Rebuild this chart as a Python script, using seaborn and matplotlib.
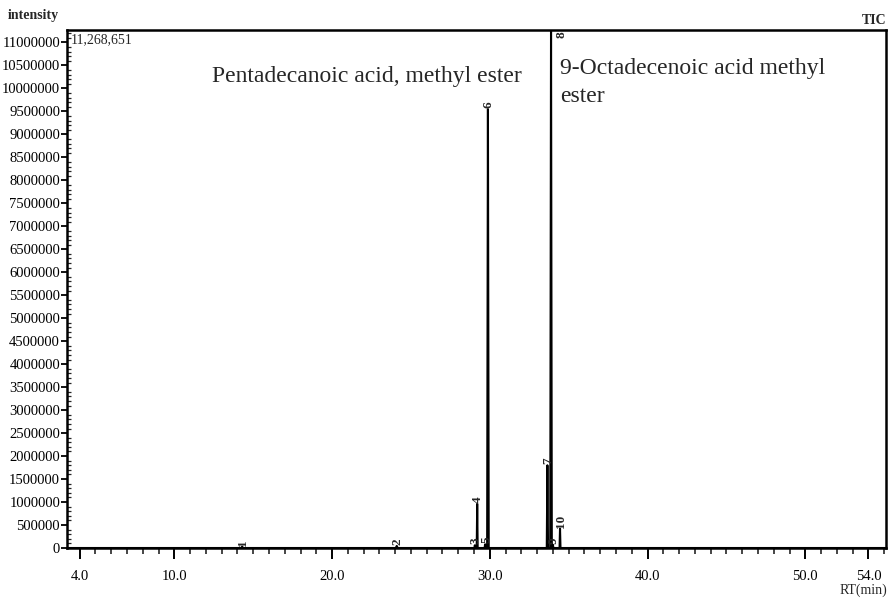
import numpy as np
import pandas as pd
import matplotlib
matplotlib.use("Agg")
import matplotlib.pyplot as plt
import seaborn as sns
from matplotlib.ticker import MultipleLocator, FixedLocator

# ---- data ----
peak_labels = ["1", "2", "3", "4", "5", "6", "7", "8", "9", "10"]
peak_rt = [14.3, 24.1, 29.05, 29.2, 29.7, 29.88, 33.65, 33.88, 34.0, 34.45]
peak_height = [30000, 45000, 60000, 960000, 80000, 9550000, 1800000, 11268651, 70000, 420000]
peak_halfwidth = [0.06, 0.06, 0.03, 0.03, 0.03, 0.05, 0.04, 0.05, 0.03, 0.03]

rt_start, rt_end = 3.2, 55.1
y_max = 11268651
x_tick_values = [4.0, 10.0, 20.0, 30.0, 40.0, 50.0, 54.0]
x_tick_labels = ["4.0", "10.0", "20.0", "30.0", "40.0", "50.0", "54.0"]
compound_names = ["Pentadecanoic acid, methyl ester", "9-Octadecenoic acid methyl\nester"]

# build trace: baseline with narrow peaks
xs = [rt_start]
ys = [0]
for rt, h, w in sorted(zip(peak_rt, peak_height, peak_halfwidth)):
    xs += [rt - w, rt, rt + w]
    ys += [0, h, 0]
xs.append(rt_end)
ys.append(0)
trace = pd.DataFrame({"rt": xs, "intensity": ys})

sns.set_theme(style="white")
serif = ["Liberation Serif", "DejaVu Serif"]
plt.rcParams["font.family"] = serif
plt.rcParams["font.serif"] = serif

fig = plt.figure(figsize=(8.88, 5.98), dpi=100)
ax = fig.add_axes([0.0755, 0.0836, 0.922, 0.866])

sns.lineplot(data=trace, x="rt", y="intensity", sort=False, estimator=None,
             color="black", linewidth=1.5, ax=ax)

ax.set_xlim(rt_start, rt_end)
ax.set_ylim(0, y_max)

for s in ax.spines.values():
    s.set_color("black")
    s.set_linewidth(1.8)

yvals = np.arange(0, 11000001, 500000)
ax.xaxis.set_major_locator(FixedLocator(x_tick_values))
ax.set_xticklabels(x_tick_labels, fontfamily=serif)
ax.xaxis.set_minor_locator(MultipleLocator(1.0))
ax.set_yticks(yvals)
ax.set_yticklabels([str(int(v)) for v in yvals], fontfamily=serif)
ax.yaxis.set_minor_locator(MultipleLocator(100000))

ax.tick_params(axis="x", which="major", direction="out", length=8, width=1.4,
               labelsize=10.5, pad=8, colors="black", bottom=True)
ax.tick_params(axis="x", which="minor", direction="out", length=4, width=1.2, bottom=True)
ax.tick_params(axis="y", which="major", direction="out", length=4, width=1.3,
               labelsize=10.5, pad=1, colors="black", left=True)
ax.tick_params(axis="y", which="minor", direction="in", length=3, width=0.9, left=True)
ax.set_xlabel("")
ax.set_ylabel("")

# peak labels
for lab, rt, h in zip(peak_labels, peak_rt, peak_height):
    if lab == "8":
        ax.text(rt + 0.65, y_max * 0.997, lab, rotation=90, ha="center", va="top",
                fontsize=9.5, fontweight="bold", fontfamily=serif)
    else:
        ax.text(rt + 0.05, h + 20000, lab, rotation=90, ha="center", va="bottom",
                fontsize=9.5, fontweight="bold", fontfamily=serif)

# compound annotations
ax.text(12.4, 10250000, compound_names[0], fontsize=17, ha="left", va="center",
        fontfamily=serif)
ax.text(34.45, 10130000, compound_names[1], fontsize=17, ha="left", va="center",
        linespacing=1.4, fontfamily=serif)

# misc texts
ax.text(3.45, 11060000, "11,268,651", fontsize=10, ha="left", va="center", fontfamily=serif)
fig.text(8 / 888, 1 - 16 / 598, "intensity", fontsize=10, ha="left", va="center",
         fontweight="bold", fontfamily=serif)
fig.text(886 / 888, 1 - 21 / 598, "TIC", fontsize=10, ha="right", va="center",
         fontweight="bold", fontfamily=serif)
fig.text(887 / 888, 1 - 590 / 598, "RT(min)", fontsize=10, ha="right", va="center",
         fontfamily=serif)

fig.savefig("out.png", dpi=100, facecolor="white")
